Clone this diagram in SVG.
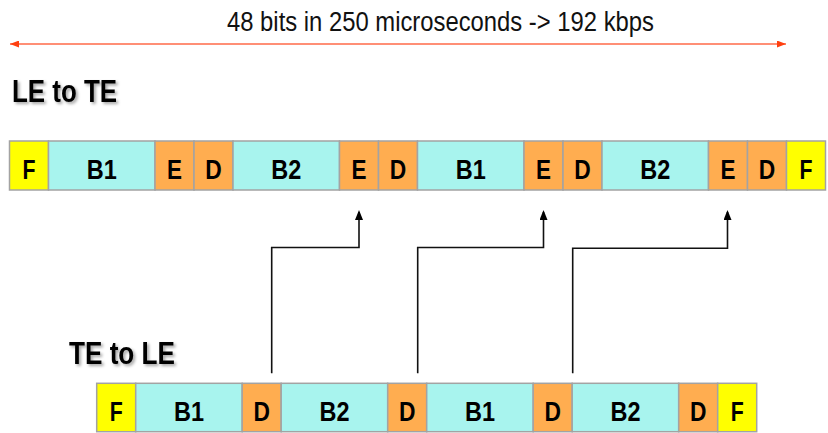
<svg xmlns="http://www.w3.org/2000/svg" width="828" height="433" viewBox="0 0 828 433">
<style>
.cell{stroke:#a3a3a3;stroke-width:1.5}
.f{fill:#ffff00}.b{fill:#a8f4ee}.o{fill:#ffad50}
.lbl{font-family:"Liberation Sans",Arial,sans-serif;font-weight:bold;font-size:27.5px;fill:#000;text-anchor:middle}
.hd{font-family:"Liberation Sans",Arial,sans-serif;font-weight:bold;font-size:31px;fill:#000}
.conn{fill:none;stroke:#111;stroke-width:1.6}
</style>
<defs>
<marker id="ah" viewBox="0 0 10 8" refX="8" refY="4" markerWidth="10" markerHeight="8" markerUnits="userSpaceOnUse" orient="auto"><path d="M0,0 L10,4 L0,8 z" fill="#000"/></marker>
<marker id="rh" viewBox="0 0 9 7" refX="9" refY="3.5" markerWidth="9" markerHeight="7" markerUnits="userSpaceOnUse" orient="auto-start-reverse"><path d="M0,0 L9,3.5 L0,7 z" fill="#ff4010"/></marker>
<filter id="sh" x="-10%" y="-20%" width="130%" height="160%"><feDropShadow dx="2" dy="2" stdDeviation="1.5" flood-color="#000" flood-opacity="0.35"/></filter>
</defs>

<g id="span">
<line x1="10" y1="44" x2="786" y2="44" stroke="#ff6a48" stroke-width="1.3" marker-start="url(#rh)" marker-end="url(#rh)"/>
<text x="227" y="31" font-family="'Liberation Sans',Arial,sans-serif" font-size="27.5" fill="#111" textLength="427" lengthAdjust="spacingAndGlyphs">48 bits in 250 microseconds -&gt; 192 kbps</text>
</g>

<text id="title-le" class="hd" x="12" y="101.7" textLength="105" lengthAdjust="spacingAndGlyphs" filter="url(#sh)">LE to TE</text>
<text id="title-te" class="hd" x="69" y="364.3" textLength="106" lengthAdjust="spacingAndGlyphs" filter="url(#sh)">TE to LE</text>

<g id="top-row">
<g id="t1"><rect class="cell f" x="9.5" y="141" width="39" height="49"/><text class="lbl" x="29" y="178.5" textLength="13" lengthAdjust="spacingAndGlyphs">F</text></g>
<g id="t2"><rect class="cell b" x="48.5" y="141" width="106.5" height="49"/><text class="lbl" x="101.75" y="178.5" textLength="30" lengthAdjust="spacingAndGlyphs">B1</text></g>
<g id="t3"><rect class="cell o" x="155" y="141" width="39" height="49"/><text class="lbl" x="174.5" y="178.5" textLength="15" lengthAdjust="spacingAndGlyphs">E</text></g>
<g id="t4"><rect class="cell o" x="194" y="141" width="39" height="49"/><text class="lbl" x="213.5" y="178.5" textLength="16.5" lengthAdjust="spacingAndGlyphs">D</text></g>
<g id="t5"><rect class="cell b" x="233" y="141" width="106.5" height="49"/><text class="lbl" x="286.25" y="178.5" textLength="30" lengthAdjust="spacingAndGlyphs">B2</text></g>
<g id="t6"><rect class="cell o" x="339.5" y="141" width="39" height="49"/><text class="lbl" x="359" y="178.5" textLength="15" lengthAdjust="spacingAndGlyphs">E</text></g>
<g id="t7"><rect class="cell o" x="378.5" y="141" width="39" height="49"/><text class="lbl" x="398" y="178.5" textLength="16.5" lengthAdjust="spacingAndGlyphs">D</text></g>
<g id="t8"><rect class="cell b" x="417.5" y="141" width="106.5" height="49"/><text class="lbl" x="470.75" y="178.5" textLength="30" lengthAdjust="spacingAndGlyphs">B1</text></g>
<g id="t9"><rect class="cell o" x="524" y="141" width="39" height="49"/><text class="lbl" x="543.5" y="178.5" textLength="15" lengthAdjust="spacingAndGlyphs">E</text></g>
<g id="t10"><rect class="cell o" x="563" y="141" width="39" height="49"/><text class="lbl" x="582.5" y="178.5" textLength="16.5" lengthAdjust="spacingAndGlyphs">D</text></g>
<g id="t11"><rect class="cell b" x="602" y="141" width="106.5" height="49"/><text class="lbl" x="655.25" y="178.5" textLength="30" lengthAdjust="spacingAndGlyphs">B2</text></g>
<g id="t12"><rect class="cell o" x="708.5" y="141" width="39" height="49"/><text class="lbl" x="728" y="178.5" textLength="15" lengthAdjust="spacingAndGlyphs">E</text></g>
<g id="t13"><rect class="cell o" x="747.5" y="141" width="39" height="49"/><text class="lbl" x="767" y="178.5" textLength="16.5" lengthAdjust="spacingAndGlyphs">D</text></g>
<g id="t14"><rect class="cell f" x="786.5" y="141" width="39" height="49"/><text class="lbl" x="806" y="178.5" textLength="13" lengthAdjust="spacingAndGlyphs">F</text></g>
</g>

<g id="bottom-row">
<g id="b1"><rect class="cell f" x="96.7" y="383.3" width="39" height="48.4"/><text class="lbl" x="116.2" y="420.8" textLength="13" lengthAdjust="spacingAndGlyphs">F</text></g>
<g id="b2"><rect class="cell b" x="135.7" y="383.3" width="106.5" height="48.4"/><text class="lbl" x="188.95" y="420.8" textLength="30" lengthAdjust="spacingAndGlyphs">B1</text></g>
<g id="b3"><rect class="cell o" x="242.2" y="383.3" width="39" height="48.4"/><text class="lbl" x="261.7" y="420.8" textLength="16.5" lengthAdjust="spacingAndGlyphs">D</text></g>
<g id="b4"><rect class="cell b" x="281.2" y="383.3" width="106.5" height="48.4"/><text class="lbl" x="334.45" y="420.8" textLength="30" lengthAdjust="spacingAndGlyphs">B2</text></g>
<g id="b5"><rect class="cell o" x="387.7" y="383.3" width="39" height="48.4"/><text class="lbl" x="407.2" y="420.8" textLength="16.5" lengthAdjust="spacingAndGlyphs">D</text></g>
<g id="b6"><rect class="cell b" x="426.7" y="383.3" width="106.5" height="48.4"/><text class="lbl" x="479.95" y="420.8" textLength="30" lengthAdjust="spacingAndGlyphs">B1</text></g>
<g id="b7"><rect class="cell o" x="533.2" y="383.3" width="39" height="48.4"/><text class="lbl" x="552.7" y="420.8" textLength="16.5" lengthAdjust="spacingAndGlyphs">D</text></g>
<g id="b8"><rect class="cell b" x="572.2" y="383.3" width="106.5" height="48.4"/><text class="lbl" x="625.45" y="420.8" textLength="30" lengthAdjust="spacingAndGlyphs">B2</text></g>
<g id="b9"><rect class="cell o" x="678.7" y="383.3" width="39" height="48.4"/><text class="lbl" x="698.2" y="420.8" textLength="16.5" lengthAdjust="spacingAndGlyphs">D</text></g>
<g id="b10"><rect class="cell f" x="717.7" y="383.3" width="39" height="48.4"/><text class="lbl" x="737.2" y="420.8" textLength="13" lengthAdjust="spacingAndGlyphs">F</text></g>
</g>

<g id="connectors">
<path class="conn" d="M271.7,373.3 V247.5 H359 V212" marker-end="url(#ah)"/>
<path class="conn" d="M417.7,373.3 V247.5 H543.5 V212" marker-end="url(#ah)"/>
<path class="conn" d="M572.7,373.3 V248.3 H727.5 V212" marker-end="url(#ah)"/>
</g>
</svg>
